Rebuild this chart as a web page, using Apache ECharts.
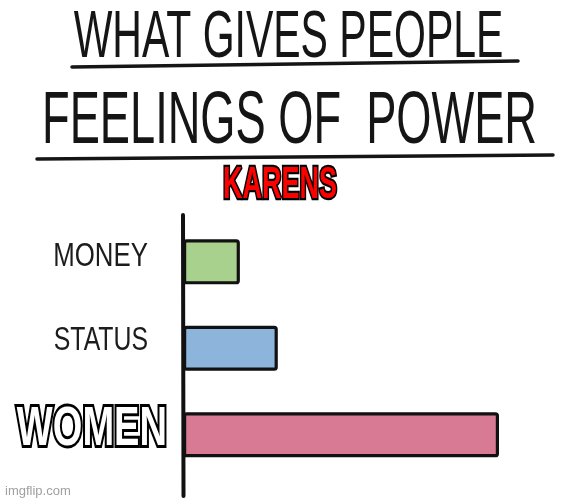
<!DOCTYPE html>
<html>
<head>
<meta charset="utf-8">
<script src="https://cdn.jsdelivr.net/npm/echarts@6/dist/echarts.min.js"></script>
<style>
  html, body { margin: 0; padding: 0; background: #ffffff; }
  #chart { width: 564px; height: 500px; }
</style>
</head>
<body>
<div id="chart"></div>
<script>
const titleLines = ['WHAT GIVES PEOPLE', 'FEELINGS OF  POWER'];
const subtitle = 'KARENS';
const categories = ['MONEY', 'STATUS', 'WOMEN'];
const values = [18, 30, 100];
const barColors = ['#a9d18e', '#8db4da', '#d97a94'];
const watermark = 'imgflip.com';

const chart = echarts.init(document.getElementById('chart'), null, { renderer: 'canvas' });

const handFont = '"Liberation Sans", Arial, sans-serif';

// label styles per category (style only, no data)
const labelStyles = [
  { font: 'normal 34px ' + handFont, fill: '#1c1c1c', scaleX: 0.76, margin: 35, dy: -5 },
  { font: 'normal 34px ' + handFont, fill: '#1c1c1c', scaleX: 0.73, margin: 35, dy: -8 },
  { font: 'bold 56px ' + handFont, fill: '#ffffff', stroke: '#000000', lineWidth: 6,
    shadowColor: 'rgba(0,0,0,0.7)', shadowBlur: 5, scaleX: 0.68, margin: 16, dy: -5 }
];

const option = {
  backgroundColor: '#ffffff',
  animation: false,
  grid: { left: 183, right: 65, top: 218.6, bottom: 22, containLabel: false, outerBoundsMode: 'none' },
  xAxis: { type: 'value', min: 0, max: 100, show: false },
  yAxis: {
    type: 'category',
    inverse: true,
    data: categories,
    axisLine: { show: false },
    axisTick: { show: false },
    splitLine: { show: false },
    axisLabel: { show: false }
  },
  series: [{
    type: 'bar',
    barWidth: 45,
    data: values.map((v, i) => ({ value: v, itemStyle: { color: barColors[i] } })),
    itemStyle: { borderColor: '#111111', borderWidth: 3.2, borderRadius: 2 }
  }, {
    type: 'custom',
    clip: false,
    silent: true,
    z: 20,
    data: categories.map(c => [0, c]),
    encode: { x: 0, y: 1 },
    renderItem: function (params, api) {
      const idx = params.dataIndex;
      const p = api.coord([0, api.value(1)]);
      const s = labelStyles[idx];
      const style = {
        text: categories[idx], font: s.font, fill: s.fill,
        align: 'right', verticalAlign: 'middle',
        textAlign: 'right', textVerticalAlign: 'middle'
      };
      if (s.stroke) {
        style.stroke = s.stroke; style.lineWidth = s.lineWidth; style.strokeFirst = true;
        style.shadowColor = s.shadowColor; style.shadowBlur = s.shadowBlur;
      }
      return {
        type: 'text',
        x: p[0] - s.margin,
        y: p[1] + s.dy,
        scaleX: s.scaleX,
        style: style
      };
    }
  }],
  graphic: [
    { type: 'text', x: 288.5, y: 38.5, scaleX: 0.621, z: 10,
      style: { text: titleLines[0], font: 'normal 66px ' + handFont, fill: '#151515',
               textAlign: 'center', textVerticalAlign: 'middle', align: 'center', verticalAlign: 'middle' } },
    { type: 'line', shape: { x1: 72, y1: 67, x2: 518, y2: 61 },
      style: { stroke: '#151515', lineWidth: 3.5, lineCap: 'round' } },
    { type: 'text', x: 289.5, y: 123, scaleX: 0.611, z: 10,
      style: { text: titleLines[1], font: 'normal 74px ' + handFont, fill: '#151515',
               textAlign: 'center', textVerticalAlign: 'middle', align: 'center', verticalAlign: 'middle' } },
    { type: 'line', shape: { x1: 37, y1: 159, x2: 553, y2: 155 },
      style: { stroke: '#151515', lineWidth: 3.5, lineCap: 'round' } },
    { type: 'text', x: 280, y: 186, scaleX: 0.613, z: 10,
      style: { text: subtitle, font: 'bold 44px ' + handFont, fill: '#ff0000',
               stroke: '#000000', lineWidth: 4.5, strokeFirst: true,
               shadowColor: 'rgba(0,0,0,0.5)', shadowBlur: 4,
               textAlign: 'center', textVerticalAlign: 'middle', align: 'center', verticalAlign: 'middle' } },
    { type: 'line', z: 100, shape: { x1: 183, y1: 215, x2: 183.5, y2: 496 },
      style: { stroke: '#111111', lineWidth: 4, lineCap: 'round' } },
    { type: 'text', x: 5, y: 491,
      style: { text: watermark, font: 'normal 13px "Liberation Sans", Arial, sans-serif', fill: '#a0a0a0',
               textAlign: 'left', textVerticalAlign: 'middle', align: 'left', verticalAlign: 'middle' } }
  ]
};

chart.setOption(option);
</script>
</body>
</html>
